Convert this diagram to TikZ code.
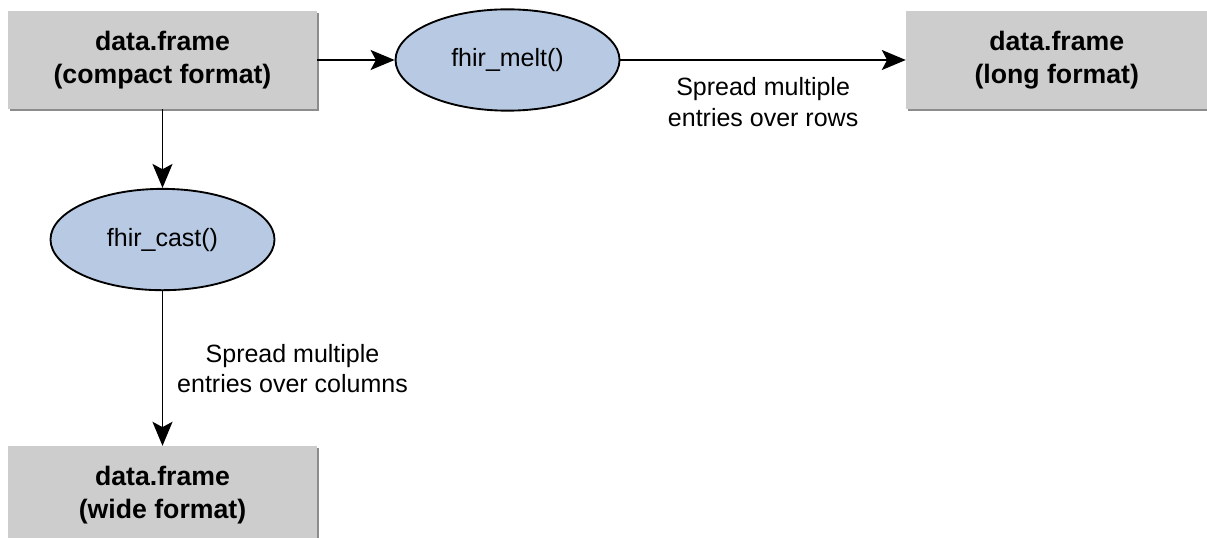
\documentclass[tikz,border=0pt]{standalone}
\usepackage{fontspec}
\setmainfont{Liberation Sans}
\usetikzlibrary{shapes,arrows.meta,positioning,shadows}

\definecolor{boxgray}{HTML}{CDCDCD}
\definecolor{funcblue}{HTML}{B8CAE3}

\begin{document}
\begin{tikzpicture}[x=0.75pt, y=-0.75pt,
    frame/.style={rectangle, fill=boxgray, minimum width=231.75pt, minimum height=73.5pt, align=center,
        font=\fontsize{20}{25}\selectfont\bfseries,
        drop shadow={shadow xshift=1.4pt, shadow yshift=-1.4pt, fill=gray!90, opacity=1}},
    func/.style={ellipse, draw, line width=1.4pt, fill=funcblue, minimum width=168pt, minimum height=76pt,
        font=\fontsize{18.75}{23}\selectfont},
    flow/.style={-{Stealth[length=18pt, width=15pt, inset=4pt]}, line width=1.4pt},
    note/.style={align=center, font=\fontsize{18.75}{23}\selectfont}]
    \useasboundingbox (0,0) rectangle (1207,538);

    % Input table
    \node[frame] (compact) at (162.5,60) {data.frame\\(compact format)};

    % Conversion functions
    \node[func, right=58pt of compact] (melt) {fhir\_melt()};
    \node[func, below=59pt of compact] (cast) {fhir\_cast()};

    % Output tables
    \node[frame, right=214pt of melt, minimum width=226pt] (long) {data.frame\\(long format)};
    \node[frame, below=116pt of cast] (wide) {data.frame\\(wide format)};

    % Arrows
    \draw[flow] (compact) -- (melt);
    \draw[flow] (melt) -- node[note, below=9pt] {Spread multiple\\entries over rows} (long);
    \draw[flow] (compact) -- (cast);
    \draw[flow] (cast) -- node[note, right=7pt] {Spread multiple\\entries over columns} (wide);
\end{tikzpicture}
\end{document}
